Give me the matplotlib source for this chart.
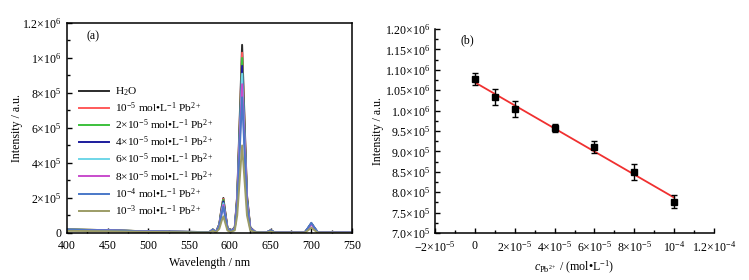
import numpy as np
import matplotlib
matplotlib.use('Agg')
import matplotlib.pyplot as plt
from matplotlib.ticker import MultipleLocator, FixedLocator, FixedFormatter

plt.rcParams['font.family'] = ['Liberation Serif', 'DejaVu Serif']
plt.rcParams['mathtext.fontset'] = 'custom'
plt.rcParams['mathtext.rm'] = 'Liberation Serif'
plt.rcParams['mathtext.it'] = 'Liberation Serif:italic'
plt.rcParams['mathtext.bf'] = 'Liberation Serif:bold'

# ---- panel (a): emission spectra ----
wavelength = [400, 450, 500, 550, 575, 579, 583, 587, 590, 592, 594, 597, 601, 606, 609,
              612, 615, 618, 621, 625, 631, 645, 650, 655, 692, 696, 700, 704, 708, 750]

i_h2o = [2.0e4, 1.6e4, 9e3, 6e3, 5e3, 2.0e4, 6e3, 5.0e4, 1.5e5, 2.0e5, 1.3e5, 3.0e4, 1.0e4, 3.2e4, 2.15e5,
         6.45e5, 1.075e6, 6.45e5, 2.15e5, 3.2e4, 6e3, 3e3, 1.5e4, 3e3, 3e3, 2.8e4, 5.5e4, 2.8e4, 3e3, 2e3]
i_1e5 = [2.0e4, 1.6e4, 9e3, 6e3, 5e3, 2.0e4, 6e3, 4.9e4, 1.46e5, 1.95e5, 1.27e5, 2.9e4, 1.0e4, 3.1e4, 2.06e5,
         6.2e5, 1.03e6, 6.2e5, 2.06e5, 3.1e4, 6e3, 3e3, 1.5e4, 3e3, 3e3, 2.8e4, 5.5e4, 2.8e4, 3e3, 2e3]
i_2e5 = [2.0e4, 1.6e4, 9e3, 6e3, 5e3, 2.0e4, 6e3, 4.8e4, 1.42e5, 1.9e5, 1.24e5, 2.9e4, 1.0e4, 3.0e4, 2.0e5,
         6.0e5, 1.0e6, 6.0e5, 2.0e5, 3.0e4, 6e3, 3e3, 1.5e4, 3e3, 3e3, 2.7e4, 5.4e4, 2.7e4, 3e3, 2e3]
i_4e5 = [1.9e4, 1.5e4, 9e3, 6e3, 5e3, 1.9e4, 6e3, 4.5e4, 1.35e5, 1.8e5, 1.17e5, 2.7e4, 1.0e4, 2.9e4, 1.91e5,
         5.73e5, 9.55e5, 5.73e5, 1.91e5, 2.9e4, 6e3, 3e3, 1.4e4, 3e3, 3e3, 2.7e4, 5.3e4, 2.7e4, 3e3, 2e3]
i_6e5 = [1.9e4, 1.5e4, 9e3, 6e3, 5e3, 1.9e4, 6e3, 4.3e4, 1.28e5, 1.7e5, 1.1e5, 2.6e4, 1.0e4, 2.7e4, 1.82e5,
         5.46e5, 9.1e5, 5.46e5, 1.82e5, 2.7e4, 6e3, 3e3, 1.4e4, 3e3, 3e3, 2.6e4, 5.2e4, 2.6e4, 3e3, 2e3]
i_8e5 = [1.8e4, 1.5e4, 8e3, 6e3, 5e3, 1.8e4, 6e3, 4.0e4, 1.2e5, 1.6e5, 1.04e5, 2.4e4, 9e3, 2.6e4, 1.7e5,
         5.1e5, 8.5e5, 5.1e5, 1.7e5, 2.6e4, 6e3, 3e3, 1.4e4, 3e3, 3e3, 2.5e4, 5.0e4, 2.5e4, 3e3, 2e3]
i_1e4 = [1.8e4, 1.5e4, 8e3, 6e3, 5e3, 1.8e4, 6e3, 3.8e4, 1.13e5, 1.5e5, 9.8e4, 2.3e4, 9e3, 2.3e4, 1.55e5,
         4.65e5, 7.75e5, 4.65e5, 1.55e5, 2.3e4, 6e3, 3e3, 1.5e4, 3e3, 3e3, 3.0e4, 5.8e4, 3.0e4, 3e3, 2e3]
i_1e3 = [1.2e4, 1.0e4, 6e3, 4e3, 3e3, 1.2e4, 4e3, 2.4e4, 7.1e4, 9.5e4, 6.2e4, 1.4e4, 6e3, 1.5e4, 1.0e5,
         3.0e5, 5.0e5, 3.0e5, 1.0e5, 1.5e4, 4e3, 2e3, 9e3, 2e3, 2e3, 1.5e4, 3.0e4, 1.5e4, 2e3, 1e3]

spectra = [i_h2o, i_1e5, i_2e5, i_4e5, i_6e5, i_8e5, i_1e4, i_1e3]
labels = [r'H$_2$O',
          r'10$^{-5}$ mol•L$^{-1}$ Pb$^{2+}$',
          r'2×10$^{-5}$ mol•L$^{-1}$ Pb$^{2+}$',
          r'4×10$^{-5}$ mol•L$^{-1}$ Pb$^{2+}$',
          r'6×10$^{-5}$ mol•L$^{-1}$ Pb$^{2+}$',
          r'8×10$^{-5}$ mol•L$^{-1}$ Pb$^{2+}$',
          r'10$^{-4}$ mol•L$^{-1}$ Pb$^{2+}$',
          r'10$^{-3}$ mol•L$^{-1}$ Pb$^{2+}$']
colors = ['#2b2b2b', '#ff5a5a', '#3cc03c', '#1c1c9c', '#6fd6e8', '#c84ccc', '#4a78c8', '#9c9c66']

a_yticks = [0, 2e5, 4e5, 6e5, 8e5, 1e6, 1.2e6]
a_ylabels = ['0', r'2×10$^{5}$', r'4×10$^{5}$', r'6×10$^{5}$',
             r'8×10$^{5}$', r'1×10$^{6}$', r'1.2×10$^{6}$']

# ---- panel (b): calibration ----
conc = [0, 1e-5, 2e-5, 4e-5, 6e-5, 8e-5, 1e-4]
peak = [1.077e6, 1.033e6, 1.004e6, 9.57e5, 9.1e5, 8.5e5, 7.77e5]
err = [1.5e4, 2.0e4, 2.0e4, 1.0e4, 1.5e4, 2.0e4, 1.5e4]

b_xticks = [-2e-5, 0, 2e-5, 4e-5, 6e-5, 8e-5, 1e-4, 1.2e-4]
b_xlabels = [r'−2×10$^{-5}$', '0', r'2×10$^{-5}$', r'4×10$^{-5}$',
             r'6×10$^{-5}$', r'8×10$^{-5}$', r'10$^{-4}$', r'1.2×10$^{-4}$']
b_yticks = [7.0e5, 7.5e5, 8.0e5, 8.5e5, 9.0e5, 9.5e5, 1.0e6, 1.05e6, 1.1e6, 1.15e6, 1.2e6]
b_ylabels = [r'7.0×10$^{5}$', r'7.5×10$^{5}$', r'8.0×10$^{5}$', r'8.5×10$^{5}$',
             r'9.0×10$^{5}$', r'9.5×10$^{5}$', r'1.0×10$^{6}$', r'1.05×10$^{6}$',
             r'1.10×10$^{6}$', r'1.15×10$^{6}$', r'1.20×10$^{6}$']

fs = 8.6
fig = plt.figure(figsize=(7.49, 2.80), dpi=100)
ax1 = fig.add_axes([0.0895, 0.168, 0.3805, 0.75])
ax2 = fig.add_axes([0.5808, 0.168, 0.3725, 0.7286])

for y, lab, c in zip(spectra, labels, colors):
    ax1.plot(wavelength, y, color=c, lw=1.4, label=lab)
ax1.set_xlim(400, 750)
ax1.set_ylim(0, 1.2e6)
ax1.xaxis.set_major_locator(MultipleLocator(50))
ax1.xaxis.set_minor_locator(MultipleLocator(25))
ax1.yaxis.set_major_locator(FixedLocator(a_yticks))
ax1.yaxis.set_major_formatter(FixedFormatter(a_ylabels))
ax1.yaxis.set_minor_locator(MultipleLocator(1e5))
ax1.tick_params(which='both', direction='in', labelsize=fs, width=1)
ax1.tick_params(which='major', length=3.5)
ax1.tick_params(which='minor', length=2)
ax1.tick_params(axis='x', pad=5)
ax1.tick_params(axis='y', pad=4)
ax1.set_xlabel('Wavelength / nm', fontsize=fs, labelpad=4)
ax1.set_ylabel('Intensity / a.u.', fontsize=fs, labelpad=-1)
for s in ax1.spines.values():
    s.set_linewidth(1.1)
ax1.text(0.07, 0.92, '(a)', transform=ax1.transAxes, fontsize=fs)
ax1.legend(loc='upper left', bbox_to_anchor=(0.015, 0.74), frameon=False, fontsize=8.2,
           handlelength=2.6, handletextpad=0.5, labelspacing=0.22, borderaxespad=0.3)

slope, intercept = np.polyfit(conc, peak, 1)
xfit = np.array([conc[0], conc[-1]])
ax2.plot(xfit, slope * xfit + intercept, color='#f03030', lw=1.3)
ax2.errorbar(conc, peak, yerr=err, fmt='s', color='black', ms=4.5, capsize=2.5,
             elinewidth=1, capthick=1)
ax2.set_xlim(-2e-5, 1.2e-4)
ax2.set_ylim(7.0e5, 1.2e6)
ax2.xaxis.set_major_locator(FixedLocator(b_xticks))
ax2.xaxis.set_major_formatter(FixedFormatter(b_xlabels))
ax2.xaxis.set_minor_locator(MultipleLocator(1e-5))
ax2.yaxis.set_major_locator(FixedLocator(b_yticks))
ax2.yaxis.set_major_formatter(FixedFormatter(b_ylabels))
ax2.yaxis.set_minor_locator(MultipleLocator(2.5e4))
ax2.tick_params(which='both', direction='in', labelsize=fs, width=1)
ax2.tick_params(which='major', length=3.5)
ax2.tick_params(which='minor', length=2)
ax2.tick_params(axis='x', pad=5)
ax2.tick_params(axis='y', pad=3)
ax2.spines['top'].set_visible(False)
ax2.spines['right'].set_visible(False)
for s in ('left', 'bottom'):
    ax2.spines[s].set_linewidth(1.1)
ax2.set_xlabel(r'$c_{\mathrm{Pb}^{2+}}$ / (mol•L$^{-1}$)', fontsize=fs, labelpad=3)
ax2.set_ylabel('Intensity / a.u.', fontsize=fs, labelpad=1)
ax2.text(0.09, 0.93, '(b)', transform=ax2.transAxes, fontsize=fs)

fig.savefig('out.png', dpi=100)
